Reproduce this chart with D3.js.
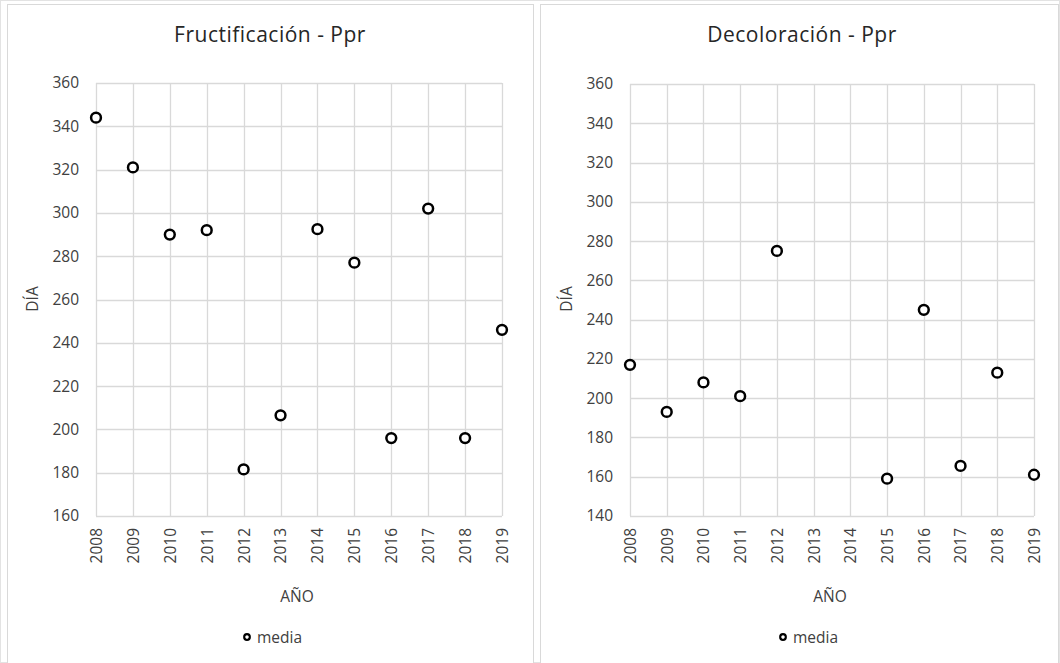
<!DOCTYPE html>
<html><head><meta charset="utf-8">
<script src="https://cdn.jsdelivr.net/npm/d3@7"></script>
<style>body{margin:0;background:#fff;}svg{display:block;font-family:"Open Sans",sans-serif;}</style>
</head><body><svg id="c" width="1060" height="663"></svg>
<script>
const years = [2008,2009,2010,2011,2012,2013,2014,2015,2016,2017,2018,2019];
const fructYears = [2008,2009,2010,2011,2012,2013,2014,2015,2016,2017,2018,2019];
const fructValues = [344,321,290,292,181.5,206.5,292.5,277,196,302,196,246];
const decolYears = [2008,2009,2010,2011,2012,2015,2016,2017,2018,2019];
const decolValues = [217,193,208,201,275,159,245,165.5,213,161];
const fructTicks = [160,180,200,220,240,260,280,300,320,340,360];
const decolTicks = [140,160,180,200,220,240,260,280,300,320,340,360];
const titles = ["Fructificación - Ppr","Decoloración - Ppr"];
const xTitle = "AÑO", yTitle = "DÍA", legendLabel = "media";

const svg = d3.select("#c");
svg.append("rect").attr("x",0.5).attr("y",0.5).attr("width",1059).attr("height",662).attr("fill","none").attr("stroke","#e3e3e3");

const panels = [
  {px:7, pw:526, x0:96, x1:502, yTop:83, yBot:516, ticks:fructTicks, xs:fructYears, vs:fructValues, title:titles[0], tcx:270, ylab:33, xcx:297, lcx:247},
  {px:540, pw:518, x0:630, x1:1034, yTop:84, yBot:516, ticks:decolTicks, xs:decolYears, vs:decolValues, title:titles[1], tcx:802, ylab:567, xcx:830, lcx:783}
];
const small = "15.5px";

panels.forEach(p => {
  const g = svg.append("g");
  g.append("rect").attr("x",p.px+0.5).attr("y",4.5).attr("width",p.pw).attr("height",670).attr("fill","#fff").attr("stroke","#d9d9d9");
  const x = d3.scaleLinear().domain([years[0], years[years.length-1]]).range([p.x0,p.x1]);
  const y = d3.scaleLinear().domain([p.ticks[0], p.ticks[p.ticks.length-1]]).range([p.yBot,p.yTop]);

  // grid
  g.append("g").selectAll("line").data(p.ticks).join("line")
    .attr("x1",p.x0).attr("x2",p.x1).attr("y1",d=>Math.round(y(d))+0.5).attr("y2",d=>Math.round(y(d))+0.5)
    .attr("stroke","#d9d9d9").attr("stroke-width",1.3);
  g.append("g").selectAll("line").data(years).join("line")
    .attr("y1",p.yTop).attr("y2",p.yBot).attr("x1",d=>Math.round(x(d))+0.5).attr("x2",d=>Math.round(x(d))+0.5)
    .attr("stroke","#d9d9d9").attr("stroke-width",1.3);

  // y axis
  const ya = g.append("g").attr("transform",`translate(${p.x0-17},0)`)
    .call(d3.axisLeft(y).tickValues(p.ticks).tickSize(0).tickPadding(0).tickFormat(d3.format("d")));
  ya.select(".domain").remove();
  ya.selectAll("text").attr("fill","#404040").style("font-size",small).style("font-family","'Open Sans',sans-serif");

  // x axis
  const xa = g.append("g").attr("transform",`translate(0,${p.yBot+12})`)
    .call(d3.axisBottom(x).tickValues(years).tickSize(0).tickPadding(0).tickFormat(d3.format("d")));
  xa.select(".domain").remove();
  xa.selectAll("text").attr("fill","#404040").style("font-size",small).style("font-family","'Open Sans',sans-serif")
    .attr("transform","rotate(-90)").attr("text-anchor","end").attr("x",0).attr("y",0).attr("dy","0.35em");

  // titles
  g.append("text").attr("x",p.tcx).attr("y",42).attr("text-anchor","middle").attr("fill","#262626")
    .style("font-size","21px").style("letter-spacing","0.5px").text(p.title);
  g.append("text").attr("transform",`translate(${p.ylab},299) rotate(-90)`).attr("text-anchor","middle")
    .attr("dy","0.35em").attr("fill","#404040").style("font-size",small).text(yTitle);
  g.append("text").attr("x",p.xcx).attr("y",602).attr("text-anchor","middle").attr("fill","#404040")
    .style("font-size",small).text(xTitle);

  // points
  g.append("g").selectAll("circle").data(p.xs.map((d,i)=>({yr:d,v:p.vs[i]}))).join("circle")
    .attr("cx",d=>x(d.yr)).attr("cy",d=>y(d.v)).attr("r",4.9)
    .attr("fill","#fff").attr("stroke","#000").attr("stroke-width",2.5);

  // legend
  const lg = g.append("g").attr("transform",`translate(${p.lcx},637)`);
  lg.append("circle").attr("cx",0).attr("cy",0).attr("r",2.8).attr("fill","#fff").attr("stroke","#000").attr("stroke-width",2.2);
  lg.append("text").attr("x",10).attr("y",6).attr("fill","#404040").style("font-size",small).text(legendLabel);
});
</script></body></html>
